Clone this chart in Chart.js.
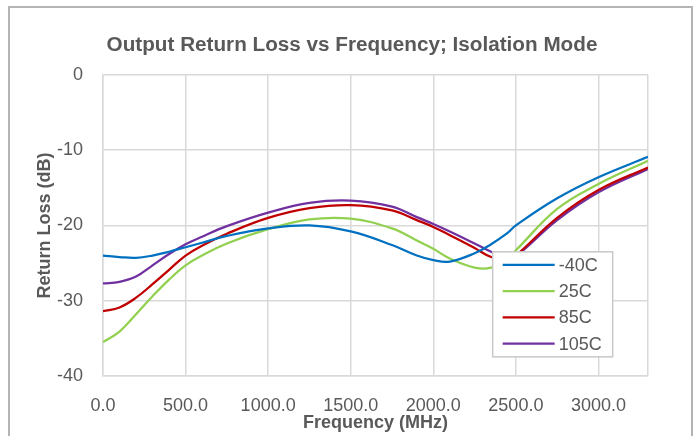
<!DOCTYPE html>
<html>
<head>
<meta charset="utf-8">
<script src="https://cdn.jsdelivr.net/npm/chart.js@4/dist/chart.umd.min.js"></script>
<style>
  html, body { margin: 0; padding: 0; background: #fff; }
  #wrap { width: 699px; height: 436px; }
</style>
</head>
<body>
<div id="wrap"><canvas id="myChart" width="699" height="436"></canvas></div>
<script>
// 周波数 (MHz)
const freq = [0, 100, 200, 300, 400, 500, 600, 750, 1000, 1250, 1500, 1750, 1900, 2000, 2100, 2250, 2350, 2450, 2500, 2750, 3000, 3300];

// 各温度のリターンロス (dB)
const rlM40 = [-24.0, -24.2, -24.3, -24.0, -23.5, -22.9, -22.3, -21.4, -20.4, -20.0, -20.8, -22.6, -24.0, -24.6, -24.8, -23.7, -22.5, -21.0, -20.0, -16.4, -13.6, -10.9];
const rl25  = [-35.5, -34.1, -31.8, -29.4, -27.2, -25.3, -24.0, -22.4, -20.5, -19.2, -19.1, -20.4, -22.0, -23.1, -24.4, -25.6, -25.6, -24.3, -23.3, -17.8, -14.5, -11.4];
const rl85  = [-31.4, -30.9, -29.6, -27.8, -25.9, -24.0, -22.7, -21.1, -19.0, -17.7, -17.3, -18.0, -19.3, -20.2, -21.3, -23.0, -24.2, -24.5, -24.0, -19.0, -15.3, -12.3];
const rl105 = [-27.7, -27.5, -26.8, -25.3, -23.8, -22.5, -21.5, -20.1, -18.3, -17.0, -16.7, -17.5, -18.9, -19.8, -20.8, -22.4, -23.5, -24.3, -24.1, -19.3, -15.6, -12.5];

const seriesLabels = ['-40C', '25C', '85C', '105C'];
const seriesColors = ['#0070C0', '#92D050', '#C00000', '#7030A0'];
const seriesValues = [rlM40, rl25, rl85, rl105];

const xTicks = [0, 500, 1000, 1500, 2000, 2500, 3000];
const yTicks = [0, -10, -20, -30, -40];

const textGray = '#595959';
const gridGray = '#d9d9d9';
const fontFamily = '"Liberation Sans", Arial, sans-serif';

const datasets = seriesLabels.map((label, i) => ({
    label: label,
    data: freq.map((f, j) => ({ x: f, y: seriesValues[i][j] })),
    borderColor: seriesColors[i],
    backgroundColor: seriesColors[i],
    borderWidth: 2.25,
    pointRadius: 0,
    tension: 0.4,
    fill: false
}));

// 外枠と背景
const framePlugin = {
    id: 'frame',
    beforeDraw(chart) {
        const c = chart.ctx;
        c.save();
        c.fillStyle = '#fff';
        c.fillRect(0, 0, chart.width, chart.height);
        c.strokeStyle = '#b4b4b4';
        c.lineWidth = 2;
        c.strokeRect(9, 7, chart.width - 16, chart.height + 20);
        c.restore();
    }
};

// プロット内の凡例
const boxLegend = {
    id: 'boxLegend',
    afterDraw(chart) {
        const a = chart.chartArea;
        const c = chart.ctx;
        const x0 = a.left + (a.right - a.left) * 0.715;
        const y0 = a.top + 177;
        const w = 120, h = 105;
        c.save();
        c.fillStyle = '#fff';
        c.fillRect(x0, y0, w, h);
        c.strokeStyle = '#c8c8c8';
        c.lineWidth = 1.5;
        c.strokeRect(x0, y0, w, h);
        c.font = '18px ' + fontFamily;
        c.textBaseline = 'middle';
        chart.data.datasets.forEach((ds, i) => {
            const y = y0 + 13 + i * 26.3;
            c.strokeStyle = ds.borderColor;
            c.lineWidth = 2.25;
            c.beginPath();
            c.moveTo(x0 + 10, y);
            c.lineTo(x0 + 62, y);
            c.stroke();
            c.fillStyle = textGray;
            c.fillText(ds.label, x0 + 66, y + 1);
        });
        c.restore();
    }
};

const config = {
    type: 'line',
    data: { datasets: datasets },
    options: {
        responsive: false,
        animation: false,
        layout: { padding: { left: 34, right: 29, top: 0, bottom: 2 } },
        scales: {
            x: {
                type: 'linear',
                min: 0,
                max: 3300,
                afterBuildTicks: s => { s.ticks = xTicks.concat([3300]).map(v => ({ value: v })); },
                afterFit: s => { s.height = 58; },
                grid: { color: gridGray, lineWidth: 1.5, drawTicks: false },
                border: { color: gridGray, width: 1.5 },
                ticks: {
                    color: textGray,
                    padding: 19,
                    maxRotation: 0,
                    font: { family: fontFamily, size: 18 },
                    callback: v => (v > 3000 ? '' : v.toFixed(1))
                },
                title: {
                    display: true,
                    text: 'Frequency (MHz)',
                    color: textGray,
                    padding: { top: 0, bottom: 0 },
                    font: { family: fontFamily, size: 18, weight: 'bold' }
                }
            },
            y: {
                min: -40,
                max: 0,
                afterBuildTicks: s => { s.ticks = yTicks.map(v => ({ value: v })); },
                afterFit: s => { s.width = 69; },
                grid: { color: gridGray, lineWidth: 1.5, drawTicks: false },
                border: { color: gridGray, width: 1.5 },
                ticks: {
                    color: textGray,
                    padding: 20,
                    font: { family: fontFamily, size: 18 }
                },
                title: {
                    display: true,
                    text: 'Return Loss (dB)',
                    color: textGray,
                    padding: { top: 0, bottom: 0 },
                    font: { family: fontFamily, size: 18, weight: 'bold' }
                }
            },
            // 右側の余白用（表示なし）
            yRight: {
                position: 'right',
                min: -40,
                max: 0,
                afterFit: s => { s.width = 22; },
                grid: { display: false, drawOnChartArea: false },
                border: { display: false },
                ticks: { display: false }
            }
        },
        plugins: {
            legend: { display: false },
            tooltip: { enabled: false },
            title: {
                display: true,
                text: 'Output Return Loss vs Frequency; Isolation Mode',
                color: textGray,
                padding: { top: 33, bottom: 17 },
                font: { family: fontFamily, size: 20.7, weight: 'bold' }
            }
        }
    },
    plugins: [framePlugin, boxLegend]
};

const myChart = new Chart(document.getElementById('myChart').getContext('2d'), config);
</script>
</body>
</html>
